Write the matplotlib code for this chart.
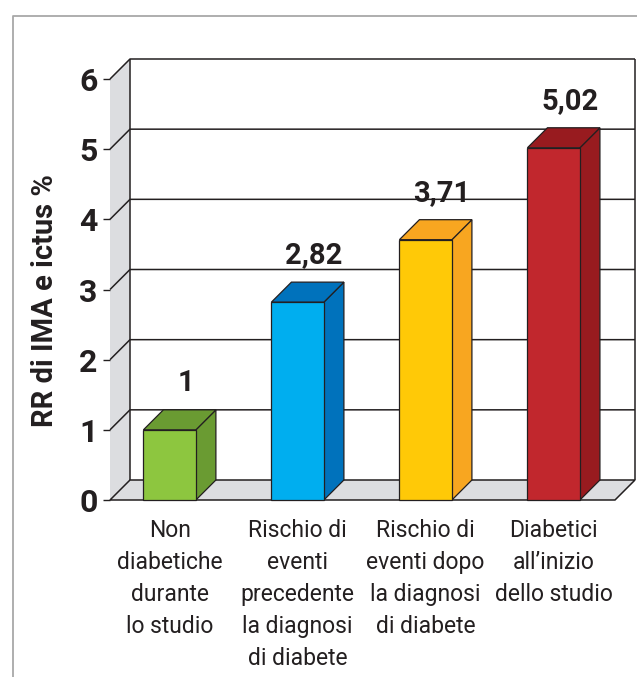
import matplotlib
matplotlib.use("Agg")
import matplotlib.pyplot as plt
from matplotlib.patches import Polygon
from matplotlib.lines import Line2D
import numpy as np

# ---- data -------------------------------------------------------------
categories = [
    "Non\ndiabetiche\ndurante\nlo studio",
    "Rischio di\neventi\nprecedente\nla diagnosi\ndi diabete",
    "Rischio di\neventi dopo\nla diagnosi\ndi diabete",
    "Diabetici\nall\u2019inizio\ndello studio",
]
values = [1, 2.82, 3.71, 5.02]
y_ticks = [0, 1, 2, 3, 4, 5, 6]
y_label = "RR di IMA e ictus %"

# ---- style ------------------------------------------------------------
front_colors = ["#8dc63f", "#00aeef", "#ffc907", "#c1272d"]
shade_colors = ["#6a9b32", "#0072bc", "#f8a620", "#981b1f"]
EDGE = "#231f20"
WALL = "#dcdde0"
FRAME = "#a8a8a8"

plt.rcParams["font.family"] = ["Roboto", "DejaVu Sans"]

W, H, DPI = 637, 677, 100
fig = plt.figure(figsize=(W / DPI, H / DPI), dpi=DPI)
fig.patch.set_facecolor("white")

# front plane of the 3D box
ax = fig.add_axes([110 / W, (H - 500) / H, 505 / W, 421 / H])
x0, x1 = -0.466, 3.479
y0, y1 = y_ticks[0], y_ticks[-1]
ax.set_xlim(x0, x1)
ax.set_ylim(y0, y1)
for s in ax.spines.values():
    s.set_visible(False)
ax.patch.set_alpha(0)

# depth of the box: 20 px right and 20 px up, expressed in data units
org = ax.transData.transform((0, 0))
ddx, ddy = ax.transData.inverted().transform(org + np.array([20.0, 20.0]))

lw = 1.1
# left wall
ax.add_patch(Polygon([(x0, y0), (x0, y1), (x0 + ddx, y1 + ddy), (x0 + ddx, y0 + ddy)],
                     closed=True, facecolor=WALL, edgecolor="none", zorder=1, clip_on=False))
# floor
ax.add_patch(Polygon([(x0, y0), (x1, y0), (x1 + ddx, y0 + ddy), (x0 + ddx, y0 + ddy)],
                     closed=True, facecolor=WALL, edgecolor=EDGE, lw=lw, zorder=2,
                     joinstyle="miter", clip_on=False))

# back wall frame and gridlines
line_kw = dict(color=EDGE, lw=lw, zorder=1.5, clip_on=False, solid_capstyle="butt")
ax.add_line(Line2D([x0 + ddx, x0 + ddx], [y0 + ddy, y1 + ddy], **line_kw))
ax.add_line(Line2D([x1 + ddx, x1 + ddx], [y0 + ddy, y1 + ddy], **line_kw))
for t in y_ticks[1:]:
    ax.add_line(Line2D([x0, x0 + ddx, x1 + ddx], [t, t + ddy, t + ddy], **line_kw))

# bars as boxes
bw = 0.41
for i, (v, fc, sc) in enumerate(zip(values, front_colors, shade_colors)):
    l, r = i - bw / 2, i + bw / 2
    kw = dict(closed=True, edgecolor=EDGE, lw=0.9, zorder=3 + i, clip_on=False,
              joinstyle="miter")
    ax.add_patch(Polygon([(r, 0), (r + ddx, ddy), (r + ddx, v + ddy), (r, v)],
                         facecolor=sc, **kw))
    ax.add_patch(Polygon([(l, v), (r, v), (r + ddx, v + ddy), (l + ddx, v + ddy)],
                         facecolor=sc, **kw))
    ax.add_patch(Polygon([(l, 0), (r, 0), (r, v), (l, v)], facecolor=fc, **kw))
    ax.annotate(f"{v:g}".replace(".", ","), xy=(i, v), xytext=(16 * 0.72, 39 * 0.72),
                textcoords="offset points", ha="center", va="baseline",
                fontsize=21, fontweight="bold", color=EDGE, zorder=10,
                annotation_clip=False)

# axes ticks and labels
ax.set_yticks(y_ticks)
ax.set_yticklabels([str(t) for t in y_ticks], fontsize=23, fontweight="bold", color=EDGE)
ax.tick_params(axis="y", length=5, width=1, color=EDGE, pad=4)
ax.set_xticks(range(len(categories)))
ax.set_xticklabels(categories, fontsize=16.5, color=EDGE, linespacing=1.49)
ax.tick_params(axis="x", length=0, pad=14)

ax.text(-0.129, 0.474, y_label, transform=ax.transAxes, rotation=90,
        ha="center", va="center", fontsize=21, fontweight="bold", color=EDGE)

# outer panel border (left and top)
fig.add_artist(Line2D([13 / W, 13 / W, 1.0], [0.0, 1 - 16 / H, 1 - 16 / H],
                      transform=fig.transFigure, color=FRAME, lw=1.3))

fig.savefig("out.png", dpi=DPI)
